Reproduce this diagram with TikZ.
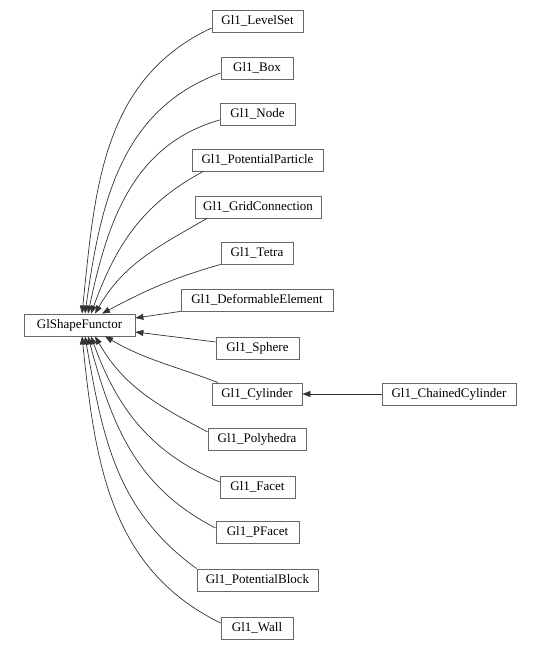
\documentclass[tikz,border=0pt]{standalone}
\usepackage{fontspec}
\setmainfont{Liberation Serif}
\usepackage{tikz}
\usetikzlibrary{arrows.meta}
\tikzset{
  cls/.style = {draw = black!60, line width = 0.8pt, minimum height = 22pt, inner xsep = 4pt, inner ysep = 0pt, font = \fontsize{13}{15}\selectfont},
  inh/.style = {black!80, line width = 0.7pt, -{Triangle[length = 8pt, width = 6pt]}}
}

\begin{document}
\begin{tikzpicture}[x = 1pt, y = 1pt]
\useasboundingbox (0, 0) rectangle (541, 650);
\node [cls, minimum width = 111pt] (gsf) at (79.5, 325) {GlShapeFunctor};
\node [cls, minimum width = 91pt] (ls) at (257.5, 629) {Gl1\_LevelSet};
\node [cls, minimum width = 72pt] (bx) at (257, 582) {Gl1\_Box};
\node [cls, minimum width = 75pt] (nd) at (257.5, 536) {Gl1\_Node};
\node [cls, minimum width = 131pt] (pp) at (257.5, 490) {Gl1\_PotentialParticle};
\node [cls, minimum width = 126pt] (gc) at (258, 443) {Gl1\_GridConnection};
\node [cls, minimum width = 72pt] (tt) at (257, 397) {Gl1\_Tetra};
\node [cls, minimum width = 152pt] (de) at (257, 350) {Gl1\_DeformableElement};
\node [cls, minimum width = 83pt] (sp) at (257.5, 302) {Gl1\_Sphere};
\node [cls, minimum width = 90pt] (cy) at (257, 256) {Gl1\_Cylinder};
\node [cls, minimum width = 134pt] (cc) at (449, 256) {Gl1\_ChainedCylinder};
\node [cls, minimum width = 98pt] (ph) at (257, 211) {Gl1\_Polyhedra};
\node [cls, minimum width = 75pt] (fc) at (257.5, 163) {Gl1\_Facet};
\node [cls, minimum width = 83pt] (pf) at (257.5, 118) {Gl1\_PFacet};
\node [cls, minimum width = 121pt] (pb) at (257.5, 70) {Gl1\_PotentialBlock};
\node [cls, minimum width = 72pt] (wl) at (257, 22) {Gl1\_Wall};
\draw [inh] ([yshift = -7pt]ls.west) to [out = 205, in = 84] ([xshift = 2.5pt]gsf.north);
\draw [inh] ([yshift = -5pt]bx.west) to [out = 200, in = 82] ([xshift = 5.5pt]gsf.north);
\draw [inh] ([yshift = -6pt]nd.west) to [out = 196, in = 78] ([xshift = 8.5pt]gsf.north);
\draw [inh] ([xshift = -54pt]pp.south) to [out = 208, in = 70] ([xshift = 11.5pt]gsf.north);
\draw [inh] ([xshift = -51pt]gc.south) to [out = 210, in = 60] ([xshift = 15.5pt]gsf.north);
\draw [inh] (tt.south west) to [out = 196, in = 28] ([xshift = 22.5pt]gsf.north);
\draw [inh] (de.south west) -- ([yshift = 7pt]gsf.east);
\draw [inh] ([yshift = 6pt]sp.west) -- ([yshift = -7pt]gsf.east);
\draw [inh] ([xshift = -39pt]cy.north) to [out = 159, in = -30] ([xshift = 25.5pt]gsf.south);
\draw [inh] (cc.west) -- (cy.east);
\draw [inh] ([yshift = 7pt]ph.west) to [out = 152, in = -60] ([xshift = 15.5pt]gsf.south);
\draw [inh] ([yshift = 5pt]fc.west) to [out = 157, in = -70] ([xshift = 11.5pt]gsf.south);
\draw [inh] ([yshift = 4pt]pf.west) to [out = 153, in = -75] ([xshift = 8.5pt]gsf.south);
\draw [inh] (pb.north west) to [out = 144, in = -80] ([xshift = 5.5pt]gsf.south);
\draw [inh] ([yshift = 5pt]wl.west) to [out = 154, in = -84] ([xshift = 2.5pt]gsf.south);
\end{tikzpicture}
\end{document}
